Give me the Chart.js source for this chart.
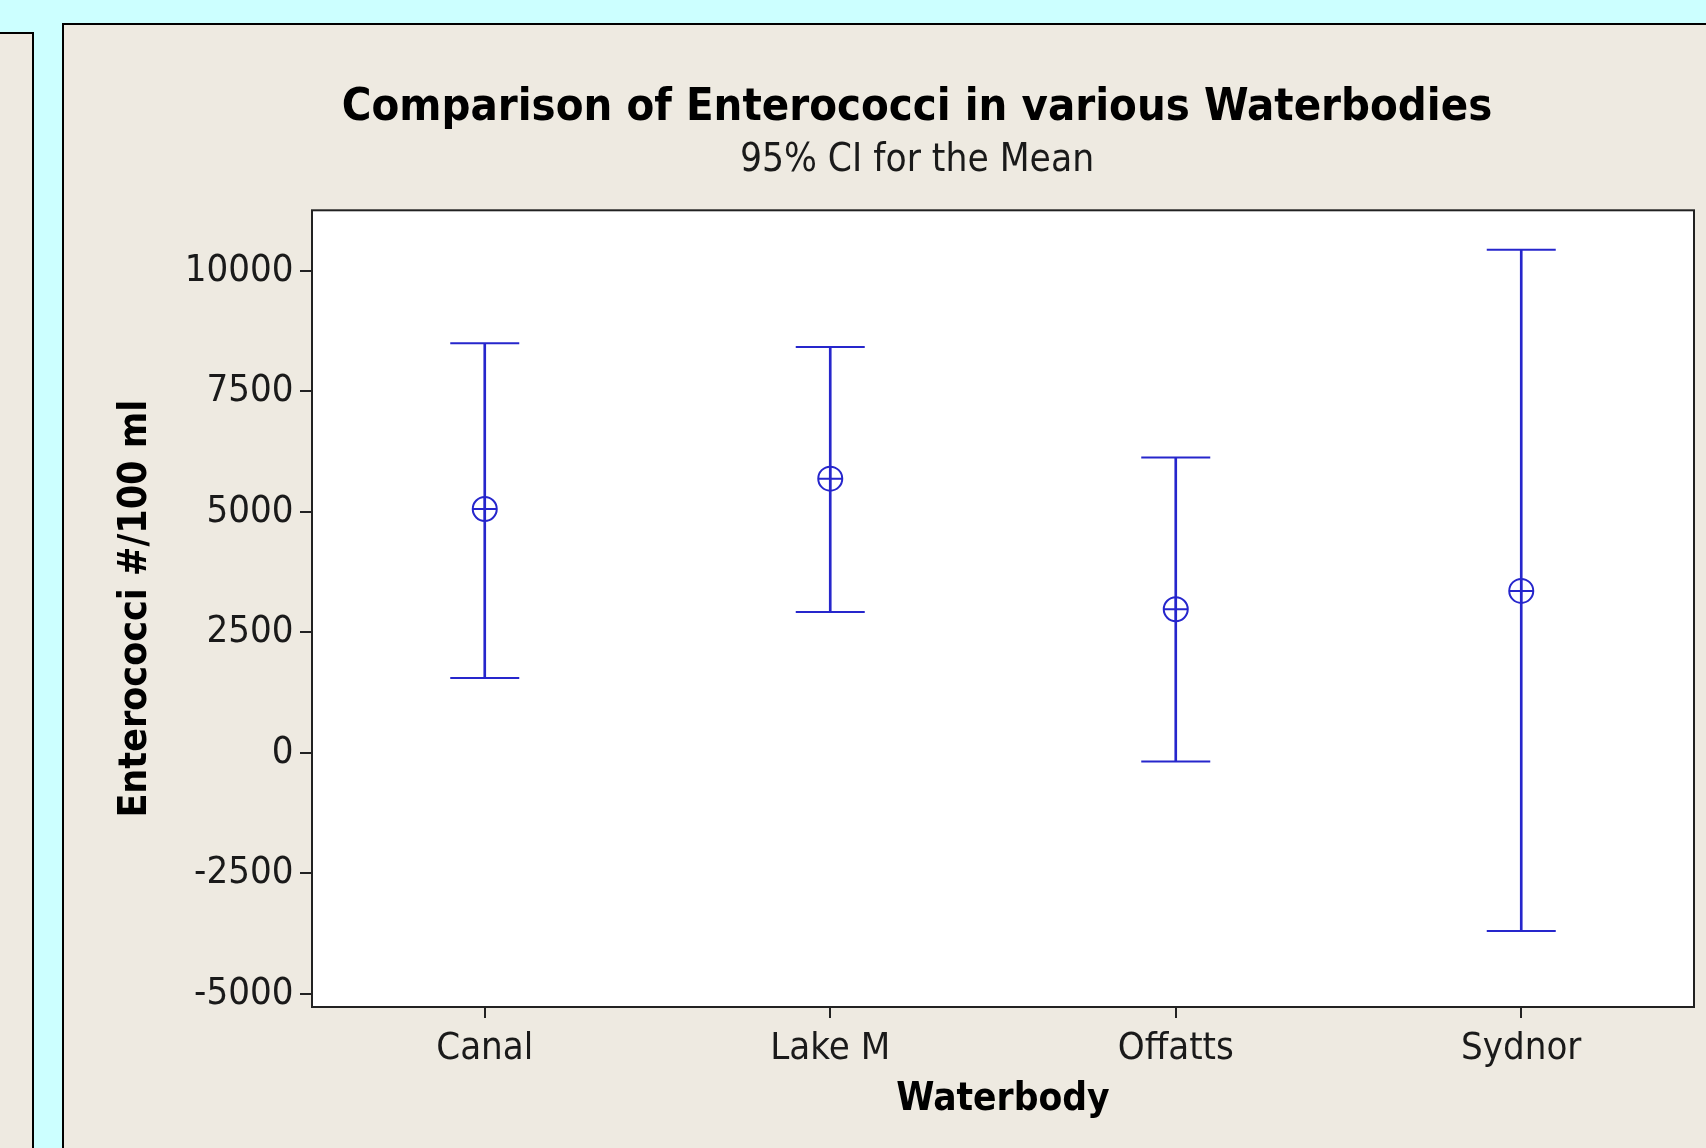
<!DOCTYPE html>
<html>
<head>
<meta charset="utf-8">
<script src="https://cdn.jsdelivr.net/npm/chart.js@4.4.1/dist/chart.umd.min.js"></script>
<style>
  html, body { margin: 0; padding: 0; width: 1706px; height: 1148px; overflow: hidden; background: #CCFFFF; }
  .panel { position: absolute; box-sizing: border-box; background: #EEEAE1; }
  #leftPanel { left: -4px; top: 32px; width: 38px; height: 1200px; border-top: 2px solid #000; border-right: 2px solid #000; }
  #mainPanel { left: 62px; top: 23px; width: 1700px; height: 1200px; border-left: 2px solid #000; border-top: 2px solid #000; }
  #chart { position: absolute; left: 0; top: 0; }
</style>
</head>
<body>
<div id="leftPanel" class="panel"></div>
<div id="mainPanel" class="panel"></div>
<canvas id="chart" width="1706" height="1148"></canvas>
<script>
// ---- Data ----
const categories = ['Canal', 'Lake M', 'Offatts', 'Sydnor'];
const means = [5060, 5690, 2980, 3360];
const lower = [1550, 2920, -180, -3700];
const upper = [8500, 8420, 6130, 10440];
const yTicks = [-5000, -2500, 0, 2500, 5000, 7500, 10000];
const yMin = -5276;
const yMax = 11259;

const chartTitle = 'Comparison of Enterococci in various Waterbodies';
const chartSubtitle = '95% CI for the Mean';
const xTitle = 'Waterbody';
const yTitle = 'Enterococci #/100 ml';

// ---- Styles ----
const BLUE = '#2626CC';
const INK = '#1a1a1a';
const FONT = "'DejaVu Sans Condensed', 'DejaVu Sans', sans-serif";

Chart.defaults.font.family = FONT;
Chart.defaults.color = INK;

const plotFrame = {
  id: 'plotFrame',
  beforeDatasetsDraw(chart) {
    const {ctx, chartArea: a} = chart;
    ctx.save();
    ctx.fillStyle = '#ffffff';
    ctx.fillRect(a.left, a.top, a.right - a.left, a.bottom - a.top);
    ctx.restore();
  },
  afterDatasetsDraw(chart) {
    const {ctx, chartArea: a} = chart;
    ctx.save();
    ctx.strokeStyle = '#222';
    ctx.lineWidth = 2;
    ctx.strokeRect(a.left, a.top, a.right - a.left, a.bottom - a.top);
    ctx.restore();
  }
};

new Chart(document.getElementById('chart'), {
  type: 'bar',
  data: {
    labels: categories,
    datasets: [
      {
        label: 'CI',
        type: 'bar',
        data: categories.map((_, i) => [lower[i], upper[i]]),
        backgroundColor: BLUE,
        borderWidth: 0,
        barThickness: 2,
        order: 4
      },
      {
        label: 'Upper',
        type: 'line',
        data: upper,
        showLine: false,
        pointStyle: 'line',
        pointRadius: 34.5,
        pointBorderWidth: 2,
        pointBorderColor: BLUE,
        order: 3
      },
      {
        label: 'Lower',
        type: 'line',
        data: lower,
        showLine: false,
        pointStyle: 'line',
        pointRadius: 34.5,
        pointBorderWidth: 2,
        pointBorderColor: BLUE,
        order: 3
      },
      {
        label: 'Mean',
        type: 'line',
        data: means,
        showLine: false,
        pointStyle: 'circle',
        pointRadius: 12,
        pointBorderWidth: 2,
        pointBorderColor: BLUE,
        pointBackgroundColor: 'rgba(255,255,255,0)',
        order: 2
      },
      {
        label: 'MeanCross',
        type: 'line',
        data: means,
        showLine: false,
        pointStyle: 'cross',
        pointRadius: 12,
        pointBorderWidth: 2,
        pointBorderColor: BLUE,
        order: 1
      }
    ]
  },
  options: {
    responsive: false,
    devicePixelRatio: 1,
    animation: false,
    events: [],
    layout: { autoPadding: false, padding: { left: 140, right: 12, top: 0, bottom: 0 } },
    plugins: {
      legend: { display: false },
      tooltip: { enabled: false },
      title: {
        display: true,
        text: chartTitle,
        color: '#000',
        font: { size: 45, weight: 'bold', lineHeight: 1.2 },
        padding: { top: 81.6, bottom: 0 }
      },
      subtitle: {
        display: true,
        text: chartSubtitle,
        color: INK,
        font: { size: 38.5, weight: 'normal', lineHeight: 1.2 },
        padding: { top: 1.9, bottom: 26.6 }
      }
    },
    scales: {
      x: {
        type: 'category',
        offset: true,
        grid: { display: true, drawOnChartArea: false, drawTicks: true, tickLength: 11, lineWidth: 2, color: '#222', offset: false },
        border: { display: false },
        ticks: { font: { size: 38 }, color: INK, padding: 8.6, maxRotation: 0, autoSkip: false },
        title: { display: true, text: xTitle, color: '#000', font: { size: 38.5, weight: 'bold', lineHeight: 1.2 }, padding: { top: 0, bottom: 24.6 } },
        afterFit(scale) { scale.height = 141; }
      },
      y: {
        type: 'linear',
        min: yMin,
        max: yMax,
        grid: { display: true, drawOnChartArea: false, drawTicks: true, tickLength: 12, lineWidth: 2, color: '#222' },
        border: { display: false },
        afterBuildTicks(scale) { scale.ticks = yTicks.map(v => ({ value: v })); },
        ticks: { font: { size: 38 }, color: INK, padding: 6.6, callback: v => String(v) },
        title: { display: true, text: yTitle, color: '#000', font: { size: 39, weight: 'bold', lineHeight: 1.2 }, padding: { top: -27.4, bottom: 0 } },
        afterFit(scale) { scale.width = 172; }
      }
    }
  },
  plugins: [plotFrame]
});
</script>
</body>
</html>
